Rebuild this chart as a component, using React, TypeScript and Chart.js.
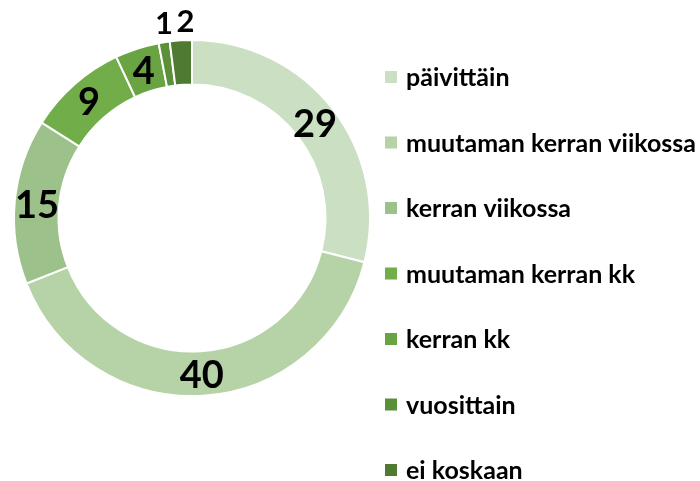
import React, { useEffect, useRef } from "react";
import { Chart, registerables } from "chart.js";

Chart.register(...registerables);

const categories = [
  "päivittäin",
  "muutaman kerran viikossa",
  "kerran viikossa",
  "muutaman kerran kk",
  "kerran kk",
  "vuosittain",
  "ei koskaan",
];
const values = [29, 40, 15, 9, 4, 1, 2];
const colors = ["#CBDFC3", "#B6D2A7", "#9CC18A", "#71AD48", "#69A342", "#5B8F38", "#4E7A31"];

const FONT = "Lato, 'Open Sans', sans-serif";

const labelPlugin = {
  id: "sliceLabels",
  afterDatasetsDraw(chart: any) {
    const ctx = chart.ctx;
    const meta = chart.getDatasetMeta(0);
    ctx.save();
    ctx.fillStyle = "#000";
    ctx.textAlign = "center";
    ctx.textBaseline = "middle";
    let smallCount = 0;
    meta.data.forEach((arc: any, i: number) => {
      const p = arc.getProps(["x", "y", "startAngle", "endAngle", "innerRadius", "outerRadius"], true);
      const mid = (p.startAngle + p.endAngle) / 2;
      const v = values[i];
      const small = v < 3;
      ctx.font = small ? `bold 31px ${FONT}` : `bold 38px ${FONT}`;
      const r = small ? p.outerRadius + 21 : (p.innerRadius + p.outerRadius) / 2;
      let dx = 0;
      if (small) {
        dx = 3 + smallCount * 3;
        smallCount++;
      }
      const x = p.x + Math.cos(mid) * r + dx;
      const y = p.y + Math.sin(mid) * r + (small ? 3 : 2);
      ctx.fillText(String(v), x, y);
    });
    ctx.restore();
  },
};

const legendPlugin = {
  id: "sideLegend",
  afterDraw(chart: any) {
    const ctx = chart.ctx;
    ctx.save();
    ctx.font = `bold 25px ${FONT}`;
    ctx.textAlign = "left";
    ctx.textBaseline = "middle";
    const top = 77;
    const step = 65.5;
    categories.forEach((c, i) => {
      const y = top + i * step;
      ctx.fillStyle = colors[i];
      ctx.fillRect(385, y - 6, 12, 12);
      ctx.fillStyle = "#000";
      ctx.fillText(c, 406, y + 1);
    });
    ctx.restore();
  },
};

export default function App() {
  const ref = useRef<HTMLCanvasElement | null>(null);
  useEffect(() => {
    if (!ref.current) return;
    const chart = new Chart(ref.current, {
      type: "doughnut",
      data: {
        labels: categories,
        datasets: [
          {
            data: values,
            backgroundColor: colors,
            borderColor: "#FFFFFF",
            borderWidth: 2,
          },
        ],
      },
      options: {
        animation: false,
        responsive: false,
        cutout: "75%",
        layout: { padding: { left: 13, right: 329, top: 39, bottom: 84 } },
        plugins: {
          legend: { display: false },
          tooltip: { enabled: false },
        },
      },
      plugins: [labelPlugin, legendPlugin],
    });
    return () => chart.destroy();
  }, []);
  return (
    <div style={{ position: "fixed", left: 0, top: 0, width: 700, height: 481, background: "#fff" }}>
      <canvas ref={ref} width={700} height={481} style={{ width: 700, height: 481 }} />
    </div>
  );
}
